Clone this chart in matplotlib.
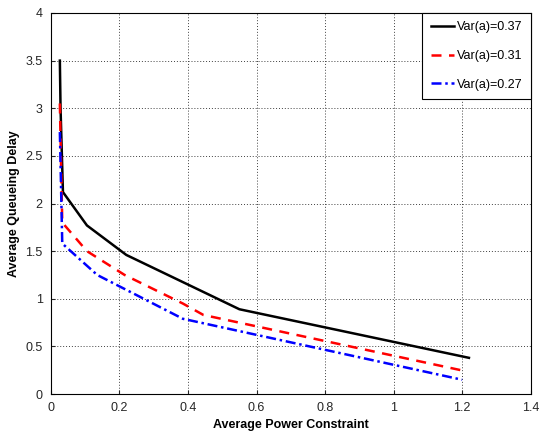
import matplotlib
matplotlib.use('Agg')
import matplotlib.pyplot as plt

plt.rcParams['font.family'] = ['Liberation Sans', 'DejaVu Sans']

# data
x_037 = [0.026, 0.028, 0.035, 0.105, 0.22, 0.55, 1.22]
y_037 = [3.5, 3.0, 2.12, 1.77, 1.46, 0.89, 0.38]
x_031 = [0.026, 0.033, 0.105, 0.215, 0.385, 0.445, 1.21]
y_031 = [3.05, 1.80, 1.50, 1.25, 0.95, 0.83, 0.24]
x_027 = [0.026, 0.033, 0.135, 0.385, 1.20]
y_027 = [2.75, 1.58, 1.25, 0.79, 0.15]

fig = plt.figure(figsize=(5.42, 4.33), dpi=100)
ax = fig.add_axes([0.094, 0.09, 0.885, 0.88])

ax.plot(x_037, y_037, color='black', lw=1.8, ls='-', label='Var(a)=0.37')
ax.plot(x_031, y_031, color='red', lw=1.8, ls=(0, (4, 3)), label='Var(a)=0.31')
ax.plot(x_027, y_027, color='blue', lw=1.8, ls=(0, (4, 1.5, 1, 1.5)), label='Var(a)=0.27')

ax.set_xlim(0, 1.4)
ax.set_ylim(0, 4)
ax.set_xticks([0, 0.2, 0.4, 0.6, 0.8, 1, 1.2, 1.4])
ax.set_xticklabels(['0', '0.2', '0.4', '0.6', '0.8', '1', '1.2', '1.4'])
ax.set_yticks([0, 0.5, 1, 1.5, 2, 2.5, 3, 3.5, 4])
ax.set_yticklabels(['0', '0.5', '1', '1.5', '2', '2.5', '3', '3.5', '4'])
ax.tick_params(labelsize=9, direction='in', length=3, colors='#262626')
ax.tick_params(axis='x', pad=6)
ax.tick_params(axis='y', pad=6)
ax.grid(True, ls=(0, (1, 2)), color='#404040', lw=0.7)

ax.set_xlabel('Average Power Constraint', fontsize=9, fontweight='bold', labelpad=3)
ax.set_ylabel('Average Queueing Delay', fontsize=9, fontweight='bold', labelpad=4)

leg = ax.legend(loc='upper right', fontsize=9, handlelength=1.9, borderaxespad=0,
                fancybox=False, framealpha=1, labelspacing=1.35, borderpad=0.65,
                handletextpad=0.2)
leg.get_frame().set_edgecolor('black')
leg.get_frame().set_linewidth(0.8)

fig.savefig('out.png', dpi=100, facecolor='white')
